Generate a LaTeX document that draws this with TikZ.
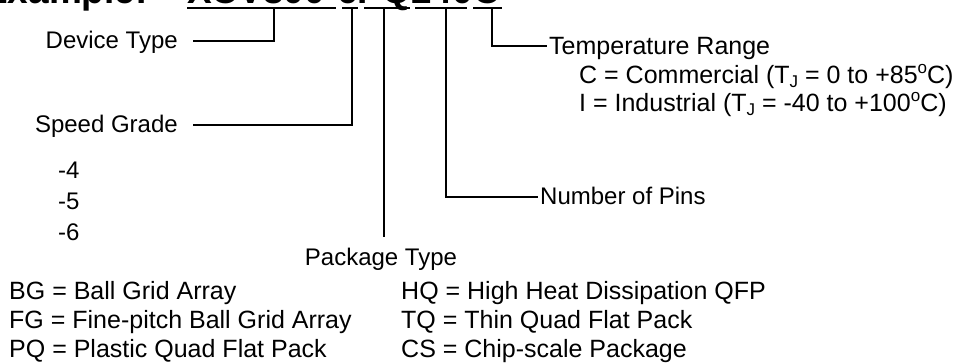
\documentclass[tikz,border=0pt]{standalone}
\usepackage{fontspec}
\setmainfont{Liberation Sans}
\newcommand\mysubJ{\raisebox{-0.35ex}{\fontsize{17}{17}\selectfont J}}
\newcommand\mydeg{\raisebox{0.75ex}{\fontsize{17}{17}\selectfont o}}
\begin{document}
\begin{tikzpicture}[x=1pt,y=-1pt,
  lbl/.style={font=\fontsize{24}{28}\selectfont, inner sep=0pt},
  lblr/.style={font=\fontsize{25}{29}\selectfont, inner sep=0pt},
  ttl/.style={font=\fontsize{37}{40}\selectfont\bfseries, inner sep=0pt},
  ln/.style={line width=1.1pt}]
\useasboundingbox (0,0) rectangle (961,364);
% title (clipped at the top)
\node[ttl, anchor=base west] (ex) at (-17,3) {Example:};
\node[ttl, anchor=base west] (pn) at (187,3) {XCV300-6PQ240C};
% underline segments
\coordinate (u1a) at (187,8); \coordinate (u1b) at (336,8);
\coordinate (u2a) at (342,8); \coordinate (u2b) at (358,8);
\coordinate (u3a) at (364,8); \coordinate (u3b) at (410,8);
\coordinate (u4a) at (415,8); \coordinate (u4b) at (467,8);
\coordinate (u5a) at (473,8); \coordinate (u5b) at (502,8);
\draw[ln] (u1a) -- (u1b);
\draw[ln] (u2a) -- (u2b);
\draw[ln] (u3a) -- (u3b);
\draw[ln] (u4a) -- (u4b);
\draw[ln] (u5a) -- (u5b);
% tap points
\coordinate (tdev) at (274,8);
\coordinate (tspd) at (352,8);
\coordinate (tpkg) at (384,8);
\coordinate (tpin) at (446,8);
\coordinate (ttmp) at (492,8);
% labels
\node[lbl, anchor=base east] (dev) at (178,48) {Device Type};
\node[lbl, anchor=base east] (spd) at (178,132) {Speed Grade};
\node[lbl, anchor=base west] (s4) at (58,178) {-4};
\node[lbl, anchor=base west] (s5) at (58,209) {-5};
\node[lbl, anchor=base west] (s6) at (58,240) {-6};
\node[lbl, anchor=base] (pkg) at (381,265) {Package Type};
\node[lbl, anchor=base west] (pin) at (540,204) {Number of Pins};
\node[lblr, anchor=base west] (tmp) at (549,54) {Temperature Range};
\node[lblr, anchor=base west] (tc) at (579,83) {C = Commercial (T\mysubJ\ = 0 to +85\mydeg C)};
\node[lblr, anchor=base west] (ti) at (579,111) {I = Industrial (T\mysubJ\ = -40 to +100\mydeg C)};
\node[lblr, anchor=base west] (bg) at (9,299) {BG = Ball Grid Array};
\node[lblr, anchor=base west] (fg) at (9,328) {FG = Fine-pitch Ball Grid Array};
\node[lblr, anchor=base west] (pq) at (9,357) {PQ = Plastic Quad Flat Pack};
\node[lblr, anchor=base west] (hq) at (401,299) {HQ = High Heat Dissipation QFP};
\node[lblr, anchor=base west] (tq) at (401,328) {TQ = Thin Quad Flat Pack};
\node[lblr, anchor=base west] (cs) at (401,357) {CS = Chip-scale Package};
% connectors
\draw[ln] (tdev) |- ([xshift=15pt,yshift=7pt]dev.base east);
\draw[ln] (tspd) |- ([xshift=15pt,yshift=7pt]spd.base east);
\draw[ln] (tpkg) -- ([yshift=10pt]pkg.north -| tpkg);
\draw[ln] (tpin) |- ([xshift=-2pt,yshift=7pt]pin.base west);
\draw[ln] (ttmp) |- ([xshift=-2pt,yshift=8pt]tmp.base west);
\end{tikzpicture}
\end{document}
